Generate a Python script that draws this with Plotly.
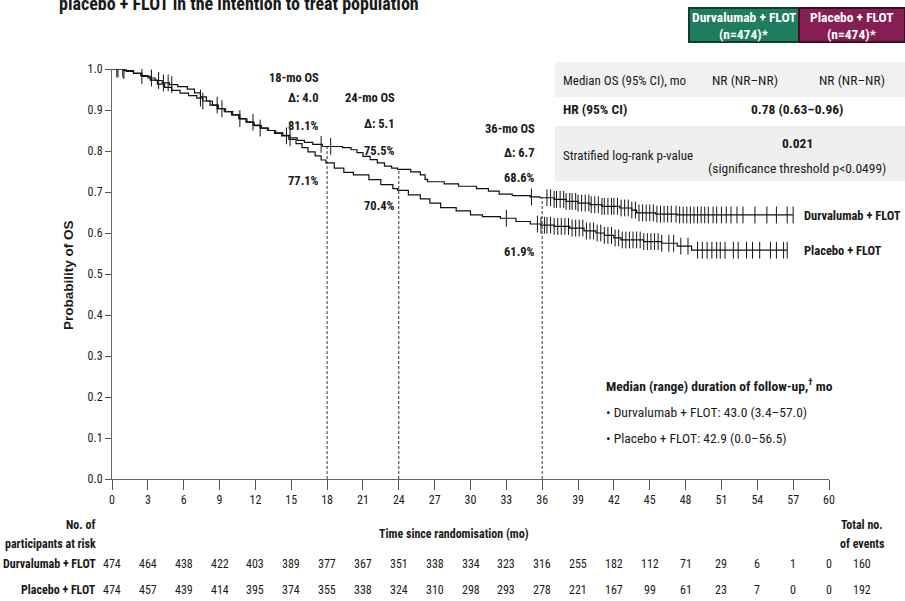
import numpy as np
import plotly.graph_objects as go

# ---- Kaplan-Meier step data (months, survival probability) ----
dur_time = [0, 1.2, 1.8, 2.4, 3.0, 3.6, 4.2, 4.8, 5.5, 6.3, 6.9, 7.4, 7.9, 8.4, 8.9,
            9.5, 10.1, 10.7, 11.3, 11.9, 12.5, 13.1, 13.7, 14.3, 14.9, 15.5, 16.1,
            16.8, 17.6, 19.3, 20.0, 20.5, 21.0, 21.6, 22.2, 22.8, 23.4, 23.9, 25.0,
            25.8, 26.2, 26.4, 27.8, 29.0, 30.5, 31.5, 32.4, 33.5, 35.0, 35.8, 37.0,
            38.0, 39.0, 40.0, 41.0, 42.5, 43.5, 43.9, 45.5, 47.3, 57.0]
dur_surv = [1.0, 0.994, 0.989, 0.984, 0.978, 0.972, 0.966, 0.962, 0.957, 0.951, 0.942,
            0.932, 0.922, 0.912, 0.903, 0.896, 0.888, 0.878, 0.870, 0.862, 0.856, 0.850,
            0.844, 0.838, 0.832, 0.826, 0.821, 0.816, 0.811, 0.808, 0.803, 0.796, 0.787,
            0.779, 0.771, 0.763, 0.758, 0.755, 0.749, 0.742, 0.731, 0.725, 0.720, 0.714,
            0.708, 0.702, 0.695, 0.691, 0.688, 0.686, 0.682, 0.677, 0.673, 0.669, 0.665,
            0.661, 0.656, 0.649, 0.646, 0.644, 0.644]

pbo_time = [0, 1.0, 1.8, 2.5, 3.2, 3.8, 4.4, 5.0, 5.7, 6.4, 7.1, 7.6, 8.2, 8.8, 9.4,
            10.0, 10.6, 11.2, 11.8, 12.4, 13.0, 13.6, 14.2, 14.8, 15.4, 15.9, 16.4,
            17.0, 17.5, 17.9, 18.6, 19.4, 20.2, 21.5, 22.5, 23.5, 23.9, 24.8, 25.8,
            26.6, 27.5, 28.8, 30.0, 31.0, 32.5, 33.8, 35.0, 35.9, 37.0, 38.3, 39.5,
            40.5, 41.2, 42.0, 42.6, 44.5, 46.0, 47.3, 48.5, 56.5]
pbo_surv = [1.0, 0.996, 0.990, 0.982, 0.973, 0.963, 0.955, 0.948, 0.941, 0.935, 0.929,
            0.922, 0.912, 0.903, 0.896, 0.888, 0.879, 0.871, 0.863, 0.856, 0.850, 0.843,
            0.837, 0.828, 0.818, 0.808, 0.798, 0.788, 0.778, 0.771, 0.758, 0.748, 0.742,
            0.730, 0.718, 0.708, 0.704, 0.693, 0.683, 0.673, 0.662, 0.654, 0.644, 0.640,
            0.636, 0.628, 0.622, 0.619, 0.616, 0.612, 0.605, 0.600, 0.594, 0.588, 0.583,
            0.579, 0.575, 0.568, 0.558, 0.558]

# ---- censoring times ----
dur_censor = [0.4, 0.9, 2.5, 3.3, 3.9, 4.3, 4.7, 5.0, 8.8, 9.2, 11.8, 14.9, 17.5, 18.3,
              35.1, 36.4, 36.7, 37.0, 37.2, 37.5, 37.8, 38.0, 38.3, 38.5, 38.8, 39.0,
              39.3, 39.6, 39.9, 40.1, 40.4, 40.7, 41.0, 41.2, 41.5, 41.8, 42.0, 42.3,
              42.6, 42.9, 43.2, 43.5, 43.8, 44.1, 44.4, 44.7, 45.0, 45.3, 45.6, 45.9,
              46.2, 46.5, 46.8, 47.2, 47.5, 47.8, 48.1, 48.4, 48.7, 49.0, 49.3, 49.6,
              49.9, 50.3, 50.6, 51.0, 51.4, 51.8, 52.3, 52.8, 53.8, 54.8, 55.6, 56.5, 57.0]
pbo_censor = [0.5, 1.0, 7.4, 7.6, 10.7, 12.4, 14.6, 33.0, 35.6, 35.9, 36.2, 36.4, 36.7,
              37.0, 37.3, 37.6, 37.9, 38.2, 38.5, 38.8, 39.1, 39.4, 39.7, 40.0, 40.3,
              40.6, 40.9, 41.2, 41.5, 41.8, 42.1, 42.4, 42.7, 43.0, 43.3, 43.6, 43.9,
              44.2, 44.5, 44.8, 45.1, 45.4, 45.7, 46.0, 46.6, 47.0, 47.6, 48.2, 49.0,
              49.4, 49.8, 50.2, 50.6, 50.9, 51.3, 52.0, 52.4, 53.1, 53.6, 54.2, 55.1,
              55.6, 56.2, 56.5]

# ---- landmark estimates ----
landmark_months = [18, 24, 36]
landmark_dur = [81.1, 75.5, 68.6]
landmark_pbo = [77.1, 70.4, 61.9]
landmark_delta = ["4.0", "5.1", "6.7"]

# ---- number at risk ----
risk_months = [0, 3, 6, 9, 12, 15, 18, 21, 24, 27, 30, 33, 36, 39, 42, 45, 48, 51, 54, 57, 60]
risk_dur = [474, 464, 438, 422, 403, 389, 377, 367, 351, 338, 334, 323, 316, 255, 182,
            112, 71, 29, 6, 1, 0]
risk_pbo = [474, 457, 439, 414, 395, 374, 355, 338, 324, 310, 298, 293, 278, 221, 167,
            99, 61, 23, 7, 0, 0]
events_dur = 160
events_pbo = 192

x_ticks = list(range(0, 61, 3))
y_ticks = [0.0, 0.1, 0.2, 0.3, 0.4, 0.5, 0.6, 0.7, 0.8, 0.9, 1.0]

NARROW = "Roboto Condensed, Liberation Sans Narrow, Arial Narrow, sans-serif"
ARIAL = "Liberation Sans, Arial, sans-serif"
INK = "#1a1a1a"

W, H = 905, 601
ML, MR, MT, MB = 112, 76, 69, 122
PW, PH = W - ML - MR, H - MT - MB


def px(xp):
    """pixel x -> paper x"""
    return (xp - ML) / PW


def py(yp):
    """pixel y -> paper y"""
    return (H - MB - yp) / PH


def step_value(times, surv, t):
    i = np.searchsorted(np.asarray(times), t, side="right") - 1
    return surv[max(i, 0)]


fig = go.Figure()

for times, surv, cens in [(dur_time, dur_surv, dur_censor), (pbo_time, pbo_surv, pbo_censor)]:
    fig.add_trace(go.Scatter(x=times, y=surv, mode="lines", line=dict(color="#111", width=1.2, shape="hv"),
                             hoverinfo="skip", showlegend=False))
    fig.add_trace(go.Scatter(x=cens, y=[step_value(times, surv, c) for c in cens], mode="markers",
                             marker=dict(symbol="line-ns-open", size=12, color="#111",
                                         line=dict(color="#111", width=1)),
                             hoverinfo="skip", showlegend=False))

# dashed landmark lines
for m, v in zip(landmark_months, landmark_dur):
    fig.add_trace(go.Scatter(x=[m, m], y=[0, v / 100], mode="lines",
                             line=dict(color="#333", width=1, dash="3px,2px"),
                             hoverinfo="skip", showlegend=False))

annotations = []


def text(x, y, s, size=13, bold=False, family=NARROW, xanchor="center", yanchor="middle",
         xref="paper", yref="paper", color=INK, textangle=0):
    if bold:
        s = "<b>" + s + "</b>"
    annotations.append(dict(x=x, y=y, xref=xref, yref=yref, text=s, showarrow=False,
                            xanchor=xanchor, yanchor=yanchor, textangle=textangle,
                            font=dict(family=family, size=size, color=color)))


# landmark labels
land_label_px = [(321, 77, 98, 125, 180), (397, 98, 123, 150, 206), (537, 128, 152, 177, 252)]
for (xr, y1, y2, y3, y4), m, d, vd, vp in zip(land_label_px, landmark_months, landmark_delta,
                                               landmark_dur, landmark_pbo):
    text(px(xr), py(y1), f"{m}-mo OS", size=12.5, bold=True, xanchor="right")
    text(px(xr), py(y2), f"Δ: {d}", size=12.5, bold=True, xanchor="right")
    text(px(xr), py(y3), f"{vd}%", size=12.5, bold=True, xanchor="right")
    text(px(xr), py(y4), f"{vp}%", size=12.5, bold=True, xanchor="right")

# curve labels
text(px(802), py(215), "Durvalumab + FLOT", size=12.5, bold=True, xanchor="left")
text(px(802), py(251), "Placebo + FLOT", size=12.5, bold=True, xanchor="left")

# follow-up box
text(px(604), py(385), "Median (range) duration of follow-up,<sup>†</sup> mo", size=13.5, bold=True,
     xanchor="left")
text(px(604), py(412), "• Durvalumab + FLOT: 43.0 (3.4–57.0)", size=13.5, xanchor="left")
text(px(604), py(438), "• Placebo + FLOT: 42.9 (0.0–56.5)", size=13.5, xanchor="left")

# title (partly above the page)
text(px(57), py(3), "placebo + FLOT in the intention to treat population", size=18, bold=True,
     xanchor="left")

# y-axis title
text(px(68), py(275), "Probability of OS", size=13.5, bold=True, family=ARIAL, textangle=-90)

# summary table
shapes = []
shapes.append(dict(type="rect", xref="paper", yref="paper", x0=px(555), x1=px(905), y0=py(97),
                   y1=py(62), fillcolor="#f1f1f1", line=dict(width=0), layer="below"))
shapes.append(dict(type="rect", xref="paper", yref="paper", x0=px(555), x1=px(905), y0=py(181),
                   y1=py(126), fillcolor="#efefef", line=dict(width=0), layer="below"))
shapes.append(dict(type="rect", xref="paper", yref="paper", x0=px(689), x1=px(799), y0=py(42),
                   y1=py(8), fillcolor="#1d7d5e", line=dict(color="#123d2e", width=2)))
shapes.append(dict(type="rect", xref="paper", yref="paper", x0=px(799), x1=px(905), y0=py(42),
                   y1=py(8), fillcolor="#861d53", line=dict(color="#3d0f26", width=2)))

text(px(744), py(17), "Durvalumab + FLOT", size=13.5, bold=True, color="white")
text(px(744), py(34), "(n=474)*", size=13.5, bold=True, color="white")
text(px(852), py(17), "Placebo + FLOT", size=13.5, bold=True, color="white")
text(px(852), py(34), "(n=474)*", size=13.5, bold=True, color="white")

text(px(561), py(80), "Median OS (95% CI), mo", size=13, xanchor="left")
text(px(745), py(80), "NR (NR–NR)", size=13.5)
text(px(852), py(80), "NR (NR–NR)", size=13.5)
text(px(561), py(109), "HR (95% CI)", size=13.5, bold=True, xanchor="left")
text(px(797), py(109), "0.78 (0.63–0.96)", size=13.5, bold=True)
text(px(561), py(155), "Stratified log-rank p-value", size=13, xanchor="left")
text(px(797), py(143), "0.021", size=13.5, bold=True)
text(px(797), py(168), "(significance threshold p<0.0499)", size=13.5)

# number-at-risk table
text(px(98), py(525), "No. of", size=12, bold=True, xanchor="right")
text(px(98), py(544), "participants at risk", size=12, bold=True, xanchor="right")
text(px(454), py(534), "Time since randomisation (mo)", size=12, bold=True)
text(px(862), py(525), "Total no.", size=12, bold=True)
text(px(862), py(544), "of events", size=12, bold=True)
text(px(98), py(564), "Durvalumab + FLOT", size=12, bold=True, xanchor="right")
text(px(98), py(590), "Placebo + FLOT", size=12, bold=True, xanchor="right")
for m, a, b in zip(risk_months, risk_dur, risk_pbo):
    text(m, py(564), str(a), size=12, xref="x")
    text(m, py(590), str(b), size=12, xref="x")
text(px(862), py(564), str(events_dur), size=12)
text(px(862), py(590), str(events_pbo), size=12)

fig.update_layout(
    width=W, height=H,
    margin=dict(l=ML, r=MR, t=MT, b=MB),
    paper_bgcolor="white", plot_bgcolor="white",
    showlegend=False,
    annotations=annotations,
    shapes=shapes,
    xaxis=dict(range=[0, 60], tickvals=x_ticks, ticktext=[str(v) for v in x_ticks],
               showgrid=False, zeroline=False, showline=True, linecolor="#666", linewidth=1,
               ticks="outside", ticklen=10, tickcolor="#555", tickwidth=1,
               tickfont=dict(family=NARROW, size=12, color=INK)),
    yaxis=dict(range=[0, 1.0], tickvals=y_ticks, ticktext=[f"{v:.1f}" for v in y_ticks],
               showgrid=False, zeroline=False, showline=True, linecolor="#666", linewidth=1,
               ticks="outside", ticklen=6, tickcolor="#555", tickwidth=1,
               tickfont=dict(family=NARROW, size=12, color=INK)),
)

fig.write_html("out.html")
